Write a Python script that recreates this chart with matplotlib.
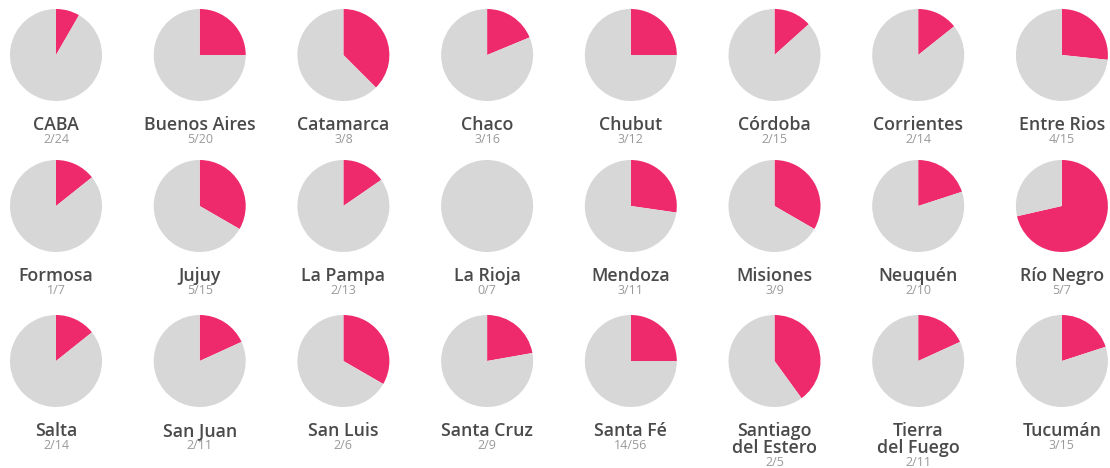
"""Small-multiple pies: share per province."""

import matplotlib.pyplot as plt

provinces = [
    "CABA", "Buenos Aires", "Catamarca", "Chaco", "Chubut", "Córdoba", "Corrientes", "Entre Rios",
    "Formosa", "Jujuy", "La Pampa", "La Rioja", "Mendoza", "Misiones", "Neuquén", "Río Negro",
    "Salta", "San Juan", "San Luis", "Santa Cruz", "Santa Fé", "Santiago\ndel Estero",
    "Tierra\ndel Fuego", "Tucumán",
]
women = [2, 5, 3, 3, 3, 2, 2, 4, 1, 5, 2, 0, 3, 3, 2, 5, 2, 2, 2, 2, 14, 2, 2, 3]
totals = [24, 20, 8, 16, 12, 15, 14, 15, 7, 15, 13, 7, 11, 9, 10, 7, 14, 11, 6, 9, 56, 5, 11, 15]

PINK = "#EF2A6C"
GREY = "#D7D7D7"

W, H = 1110, 468
fig = plt.figure(figsize=(W / 100, H / 100), dpi=100)

# pixel layout (from top-left)
col_x = [56 + 143.7 * i for i in range(8)]
row_y = [55, 206, 361]
R = 46

for i, (name, k, n) in enumerate(zip(provinces, women, totals)):
    cx = col_x[i % 8]
    cy = row_y[i // 8]
    ax = fig.add_axes([(cx - R) / W, 1 - (cy + R) / H, 2 * R / W, 2 * R / H])
    ax.pie([k, n - k], colors=[PINK, GREY], startangle=90, counterclock=False,
           radius=1, wedgeprops=dict(linewidth=0))
    ax.set_xlim(-1, 1)
    ax.set_ylim(-1, 1)
    ax.set_aspect("equal")
    ax.axis("off")

    # baselines, in pixels from the top
    ly = cy + 75
    for line in name.split("\n"):
        fig.text(cx / W, 1 - ly / H, line, ha="center", va="baseline",
                 fontsize=12.8, fontfamily="Open Sans", fontweight="semibold", color="#4a4a4a")
        ly += 17
    fig.text(cx / W, 1 - (ly - 4) / H, f"{k}/{n}", ha="center", va="baseline",
             fontsize=9, fontfamily="Open Sans", color="#9a9a9a")

plt.savefig("out.png", dpi=100)
